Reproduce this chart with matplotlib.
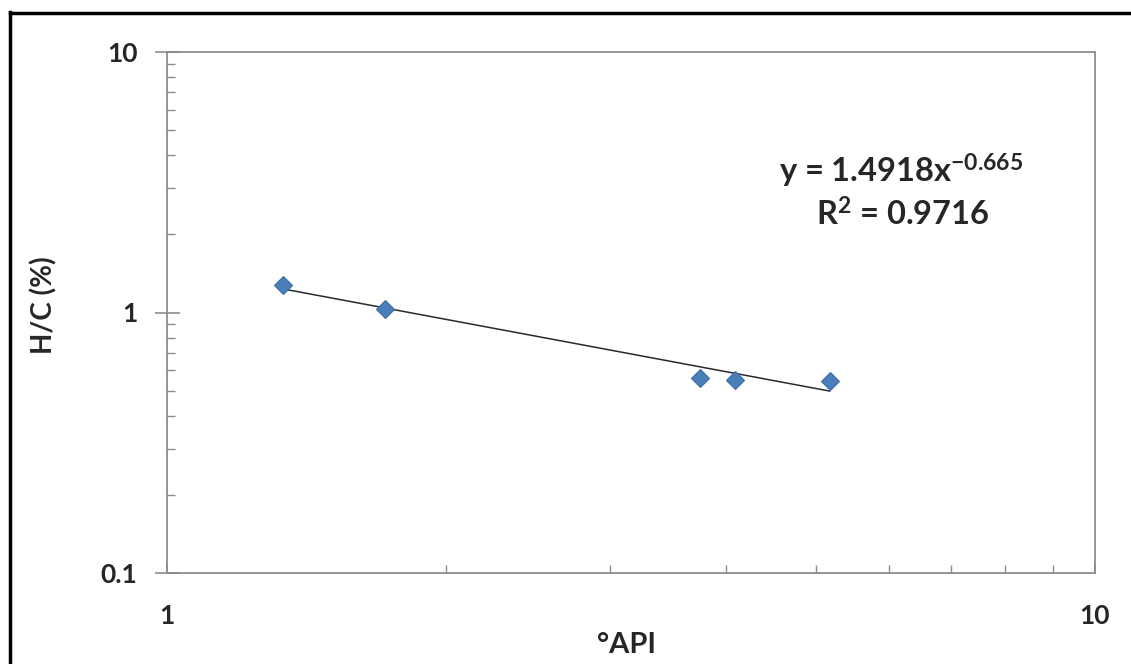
import matplotlib
matplotlib.use("Agg")
import matplotlib.pyplot as plt
from matplotlib.lines import Line2D
from matplotlib.ticker import LogLocator, NullFormatter, FixedLocator
import numpy as np

# values
api = [1.335, 1.718, 3.754, 4.093, 5.18]
hc = [1.27, 1.033, 0.562, 0.552, 0.547]

# power-law trendline given on the chart
coef = 1.4918
expo = -0.665
eq_text = "y = 1.4918x$^{-0.665}$"
r2_text = "R$^{2}$ = 0.9716"

plt.rcParams['font.family'] = ['Lato', 'DejaVu Sans']
plt.rcParams['font.weight'] = 'bold'
plt.rcParams['mathtext.fontset'] = 'custom'
plt.rcParams['mathtext.rm'] = 'Lato:bold'
plt.rcParams['mathtext.it'] = 'Lato:bold'
plt.rcParams['mathtext.bf'] = 'Lato:bold'
plt.rcParams['mathtext.default'] = 'rm'

W, H = 1131, 664
fig = plt.figure(figsize=(W / 100, H / 100), dpi=100)
ax = fig.add_axes([166.7 / W, 1 - 573.3 / H, (1095 - 166.7) / W, (573.3 - 51.7) / H])

ax.set_xscale('log')
ax.set_yscale('log')
ax.set_xlim(1, 10)
ax.set_ylim(0.1, 10)

# trendline between first and last point
xf = np.array([min(api), max(api)])
ax.plot(xf, coef * xf ** expo, color='#2a2a2a', lw=1.1, zorder=2)
ax.plot(api, hc, linestyle='none', marker='D', ms=9.5,
        markerfacecolor='#4a7ebb', markeredgecolor='#3c6ca8', mew=0.8, zorder=3)

for s in ax.spines.values():
    s.set_color('#8c8c8c')
    s.set_linewidth(1.3)

ax.xaxis.set_major_locator(FixedLocator([1, 10]))
ax.yaxis.set_major_locator(FixedLocator([0.1, 1, 10]))
ax.xaxis.set_minor_locator(LogLocator(base=10, subs=np.arange(2, 10)))
ax.yaxis.set_minor_locator(LogLocator(base=10, subs=np.arange(2, 10)))
ax.xaxis.set_minor_formatter(NullFormatter())
ax.yaxis.set_minor_formatter(NullFormatter())
ax.set_xticklabels(['1', '10'])
ax.set_yticklabels(['0.1', '1', '10'])

ax.tick_params(axis='y', which='major', direction='inout', length=18, width=1.2,
               color='#8c8c8c', labelsize=19, pad=12)
ax.tick_params(axis='x', which='major', direction='in', length=6, width=1.2,
               color='#8c8c8c', labelsize=19, pad=22)
ax.tick_params(which='minor', direction='in', length=6, width=1.0, color='#8c8c8c')
for lab in ax.get_xticklabels() + ax.get_yticklabels():
    lab.set_fontweight('bold')
    lab.set_color('#262626')

fig.text(44 / W, 1 - 305 / H, 'H/C (%)', rotation=90, ha='center', va='center',
         fontsize=20, fontweight='bold', color='#262626')
fig.text(626 / W, 1 - 645 / H, '°API', ha='center', va='center',
         fontsize=21, fontweight='bold', color='#262626')

fig.text(901 / W, 1 - 183 / H, eq_text, ha='center', va='baseline',
         fontsize=23.5, fontweight='bold', color='#262626')
fig.text(903 / W, 1 - 226 / H, r2_text, ha='center', va='baseline',
         fontsize=23.5, fontweight='bold', color='#262626')

# black frame of the chart area (cropped on right and bottom)
fig.add_artist(Line2D([10 / W, 10 / W], [0, 1 - 12 / H], transform=fig.transFigure,
                      color='black', lw=2.5))
fig.add_artist(Line2D([10 / W, 1], [1 - 13 / H, 1 - 13 / H], transform=fig.transFigure,
                      color='black', lw=2.5))

fig.savefig('out.png', dpi=100)
